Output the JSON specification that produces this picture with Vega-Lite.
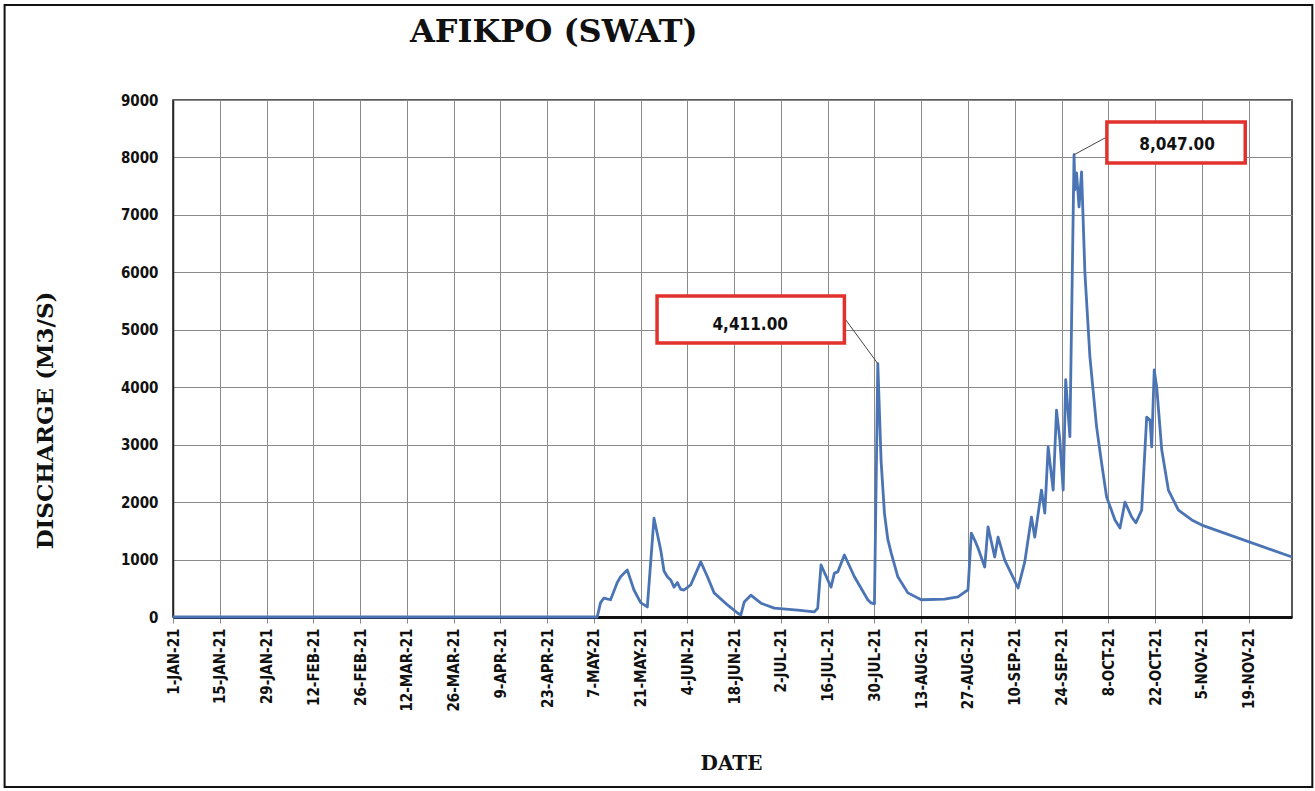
{
  "$schema": "https://vega.github.io/schema/vega-lite/v6.json",
  "width": 1119,
  "height": 517,
  "autosize": {"type": "none"},
  "padding": {"left": 173, "top": 100, "right": 23, "bottom": 174},
  "background": "white",
  "title": {
    "text": "AFIKPO (SWAT)",
    "anchor": "start",
    "frame": "group",
    "dx": 237,
    "offset": -77,
    "baseline": "bottom",
    "font": "DejaVu Serif",
    "fontSize": 32,
    "fontWeight": "bold",
    "color": "#111111"
  },
  "config": {
    "view": {"stroke": "#222222", "strokeWidth": 1.5}
  },
  "datasets": {
    "flow": [
      {"date": "2021-01-01T00:00", "q": 0},
      {"date": "2021-02-01T00:00", "q": 0},
      {"date": "2021-03-01T00:00", "q": 0},
      {"date": "2021-04-01T00:00", "q": 0},
      {"date": "2021-05-01T00:00", "q": 0},
      {"date": "2021-05-08T00:00", "q": 0},
      {"date": "2021-05-09T00:00", "q": 250},
      {"date": "2021-05-10T00:00", "q": 330},
      {"date": "2021-05-12T00:00", "q": 300},
      {"date": "2021-05-14T00:00", "q": 600},
      {"date": "2021-05-15T00:00", "q": 700},
      {"date": "2021-05-17T00:00", "q": 820},
      {"date": "2021-05-19T00:00", "q": 470},
      {"date": "2021-05-21T00:00", "q": 250},
      {"date": "2021-05-23T00:00", "q": 175},
      {"date": "2021-05-25T00:00", "q": 1720},
      {"date": "2021-05-27T00:00", "q": 1170},
      {"date": "2021-05-28T00:00", "q": 800},
      {"date": "2021-05-29T00:00", "q": 700},
      {"date": "2021-05-30T00:00", "q": 645},
      {"date": "2021-05-31T00:00", "q": 520},
      {"date": "2021-06-01T00:00", "q": 600},
      {"date": "2021-06-02T00:00", "q": 480},
      {"date": "2021-06-03T00:00", "q": 470},
      {"date": "2021-06-05T00:00", "q": 560},
      {"date": "2021-06-08T00:00", "q": 960},
      {"date": "2021-06-10T00:00", "q": 700},
      {"date": "2021-06-12T00:00", "q": 420},
      {"date": "2021-06-16T00:00", "q": 210},
      {"date": "2021-06-19T00:00", "q": 70},
      {"date": "2021-06-20T00:00", "q": 35},
      {"date": "2021-06-21T00:00", "q": 260},
      {"date": "2021-06-23T00:00", "q": 380},
      {"date": "2021-06-26T00:00", "q": 240},
      {"date": "2021-06-30T00:00", "q": 155},
      {"date": "2021-07-07T00:00", "q": 120},
      {"date": "2021-07-12T00:00", "q": 90},
      {"date": "2021-07-13T00:00", "q": 150},
      {"date": "2021-07-14T00:00", "q": 905},
      {"date": "2021-07-17T00:00", "q": 520},
      {"date": "2021-07-18T00:00", "q": 765},
      {"date": "2021-07-19T00:00", "q": 785},
      {"date": "2021-07-21T00:00", "q": 1080},
      {"date": "2021-07-24T00:00", "q": 700},
      {"date": "2021-07-28T00:00", "q": 300},
      {"date": "2021-07-29T00:00", "q": 245},
      {"date": "2021-07-30T00:00", "q": 230},
      {"date": "2021-07-31T00:00", "q": 4411},
      {"date": "2021-08-01T00:00", "q": 2700},
      {"date": "2021-08-02T00:00", "q": 1800},
      {"date": "2021-08-03T00:00", "q": 1350},
      {"date": "2021-08-04T00:00", "q": 1115},
      {"date": "2021-08-06T00:00", "q": 700},
      {"date": "2021-08-09T00:00", "q": 420},
      {"date": "2021-08-13T00:00", "q": 300},
      {"date": "2021-08-20T00:00", "q": 310},
      {"date": "2021-08-24T00:00", "q": 350},
      {"date": "2021-08-26T00:00", "q": 435},
      {"date": "2021-08-27T00:00", "q": 470},
      {"date": "2021-08-28T00:00", "q": 1460},
      {"date": "2021-08-29T00:00", "q": 1340},
      {"date": "2021-08-30T00:00", "q": 1200},
      {"date": "2021-09-01T00:00", "q": 870},
      {"date": "2021-09-02T00:00", "q": 1570},
      {"date": "2021-09-04T00:00", "q": 1045},
      {"date": "2021-09-05T00:00", "q": 1390},
      {"date": "2021-09-07T00:00", "q": 990},
      {"date": "2021-09-11T00:00", "q": 505},
      {"date": "2021-09-13T00:00", "q": 960},
      {"date": "2021-09-15T00:00", "q": 1740},
      {"date": "2021-09-16T00:00", "q": 1390},
      {"date": "2021-09-18T00:00", "q": 2210},
      {"date": "2021-09-19T00:00", "q": 1810},
      {"date": "2021-09-20T00:00", "q": 2960},
      {"date": "2021-09-21T12:00", "q": 2210},
      {"date": "2021-09-22T12:00", "q": 3600},
      {"date": "2021-09-23T12:00", "q": 3080},
      {"date": "2021-09-24T12:00", "q": 2210},
      {"date": "2021-09-25T06:00", "q": 4130},
      {"date": "2021-09-26T12:00", "q": 3140},
      {"date": "2021-09-27T18:00", "q": 8047},
      {"date": "2021-09-28T00:00", "q": 7440},
      {"date": "2021-09-28T12:00", "q": 7730},
      {"date": "2021-09-29T06:00", "q": 7140},
      {"date": "2021-09-30T00:00", "q": 7750},
      {"date": "2021-10-01T00:00", "q": 5990},
      {"date": "2021-10-02T12:00", "q": 4530},
      {"date": "2021-10-04T12:00", "q": 3310},
      {"date": "2021-10-06T00:00", "q": 2680},
      {"date": "2021-10-07T12:00", "q": 2090},
      {"date": "2021-10-10T00:00", "q": 1690},
      {"date": "2021-10-11T12:00", "q": 1550},
      {"date": "2021-10-13T00:00", "q": 2000},
      {"date": "2021-10-15T00:00", "q": 1740},
      {"date": "2021-10-16T06:00", "q": 1640},
      {"date": "2021-10-18T00:00", "q": 1860},
      {"date": "2021-10-19T12:00", "q": 3480},
      {"date": "2021-10-20T12:00", "q": 3430},
      {"date": "2021-10-21T00:00", "q": 2960},
      {"date": "2021-10-21T18:00", "q": 4300},
      {"date": "2021-10-22T12:00", "q": 4000},
      {"date": "2021-10-24T00:00", "q": 2910},
      {"date": "2021-10-26T00:00", "q": 2210},
      {"date": "2021-10-29T00:00", "q": 1860},
      {"date": "2021-11-02T00:00", "q": 1690},
      {"date": "2021-11-05T00:00", "q": 1600},
      {"date": "2021-12-02T00:00", "q": 1045}
    ],
    "frame": [
      {"date": "2020-11-11T14:00", "date2": "2021-12-08T02:00", "q": 10655, "q2": -2960}
    ],
    "leaders": [
      {"date": "2021-07-21T00:00", "q": 5205, "date2": "2021-07-31T00:00", "q2": 4411},
      {"date": "2021-10-07T14:00", "q": 8357, "date2": "2021-09-27T18:00", "q2": 8047}
    ],
    "boxes": [
      {"date": "2021-05-25T22:00", "date2": "2021-07-21T00:00", "q": 5588, "q2": 4770},
      {"date": "2021-10-07T14:00", "date2": "2021-11-18T00:00", "q": 8618, "q2": 7904}
    ],
    "labels": [
      {"date": "2021-06-22T19:00", "q": 5084, "label": "4,411.00"},
      {"date": "2021-10-28T14:00", "q": 8217, "label": "8,047.00"}
    ]
  },
  "layer": [
    {
      "data": {"name": "frame"},
      "mark": {"type": "rect", "fill": null, "stroke": "#111111", "strokeWidth": 2},
      "encoding": {
        "x": {"field": "date", "type": "temporal"},
        "x2": {"field": "date2"},
        "y": {"field": "q", "type": "quantitative"},
        "y2": {"field": "q2"}
      }
    },
    {
      "data": {"name": "flow"},
      "mark": {"type": "line", "color": "#4a74b4", "strokeWidth": 2.8, "strokeJoin": "round"},
      "encoding": {
        "x": {
          "field": "date",
          "type": "temporal",
          "scale": {"domain": [{"year": 2021, "month": 1, "date": 1}, {"year": 2021, "month": 12, "date": 2}]},
          "axis": {
            "title": "DATE",
            "values": [
              {"year": 2021, "month": 1, "date": 1},
              {"year": 2021, "month": 1, "date": 15},
              {"year": 2021, "month": 1, "date": 29},
              {"year": 2021, "month": 2, "date": 12},
              {"year": 2021, "month": 2, "date": 26},
              {"year": 2021, "month": 3, "date": 12},
              {"year": 2021, "month": 3, "date": 26},
              {"year": 2021, "month": 4, "date": 9},
              {"year": 2021, "month": 4, "date": 23},
              {"year": 2021, "month": 5, "date": 7},
              {"year": 2021, "month": 5, "date": 21},
              {"year": 2021, "month": 6, "date": 4},
              {"year": 2021, "month": 6, "date": 18},
              {"year": 2021, "month": 7, "date": 2},
              {"year": 2021, "month": 7, "date": 16},
              {"year": 2021, "month": 7, "date": 30},
              {"year": 2021, "month": 8, "date": 13},
              {"year": 2021, "month": 8, "date": 27},
              {"year": 2021, "month": 9, "date": 10},
              {"year": 2021, "month": 9, "date": 24},
              {"year": 2021, "month": 10, "date": 8},
              {"year": 2021, "month": 10, "date": 22},
              {"year": 2021, "month": 11, "date": 5},
              {"year": 2021, "month": 11, "date": 19}
            ],
            "labelExpr": "upper(timeFormat(datum.value, '%-d-%b-%y'))",
            "labelAngle": 270,
            "labelFont": "'Liberation Sans Narrow', 'DejaVu Sans Condensed', 'Liberation Sans', sans-serif",
            "labelFontSize": 15,
            "labelFontWeight": "bold",
            "labelColor": "#111111",
            "labelPadding": 5,
            "labelOverlap": false,
            "labelFlush": false,
            "grid": true,
            "gridColor": "#8a8a8a",
            "gridWidth": 1,
            "gridOpacity": 1,
            "domainColor": "#111111",
            "domainWidth": 3,
            "tickColor": "#8a8a8a",
            "tickSize": 6,
            "titleFont": "DejaVu Serif",
            "titleFontSize": 20,
            "titleFontWeight": "bold",
            "titleColor": "#111111",
            "titleX": 558,
            "titleY": 146,
            "titleAlign": "center",
            "titleBaseline": "middle"
          }
        },
        "y": {
          "field": "q",
          "type": "quantitative",
          "scale": {"domain": [0, 9000], "nice": false},
          "axis": {
            "title": "DISCHARGE (M3/S)",
            "values": [0, 1000, 2000, 3000, 4000, 5000, 6000, 7000, 8000, 9000],
            "format": "d",
            "labelFont": "'Liberation Sans Narrow', 'DejaVu Sans Condensed', 'Liberation Sans', sans-serif",
            "labelFontSize": 15,
            "labelFontWeight": "bold",
            "labelColor": "#111111",
            "labelPadding": 15,
            "ticks": false,
            "grid": true,
            "gridColor": "#8a8a8a",
            "gridWidth": 1,
            "gridOpacity": 1,
            "domainColor": "#222222",
            "domainWidth": 1.5,
            "titleFont": "DejaVu Serif",
            "titleFontSize": 23,
            "titleFontWeight": "bold",
            "titleColor": "#111111",
            "titleX": -128,
            "titleY": 320,
            "titleAngle": 270,
            "titleAlign": "center",
            "titleBaseline": "middle"
          }
        }
      }
    },
    {
      "data": {"name": "leaders"},
      "mark": {"type": "rule", "color": "#444444", "strokeWidth": 1},
      "encoding": {
        "x": {"field": "date", "type": "temporal"},
        "x2": {"field": "date2"},
        "y": {"field": "q", "type": "quantitative"},
        "y2": {"field": "q2"}
      }
    },
    {
      "data": {"name": "boxes"},
      "mark": {"type": "rect", "fill": "white", "stroke": "#e2322c", "strokeWidth": 3.5},
      "encoding": {
        "x": {"field": "date", "type": "temporal"},
        "x2": {"field": "date2"},
        "y": {"field": "q", "type": "quantitative"},
        "y2": {"field": "q2"}
      }
    },
    {
      "data": {"name": "labels"},
      "mark": {"type": "text", "font": "'Liberation Sans Narrow', 'DejaVu Sans Condensed', 'Liberation Sans', sans-serif", "fontSize": 17, "fontWeight": "bold", "color": "#111111", "align": "center", "baseline": "middle"},
      "encoding": {
        "x": {"field": "date", "type": "temporal"},
        "y": {"field": "q", "type": "quantitative"},
        "text": {"field": "label"}
      }
    }
  ]
}
